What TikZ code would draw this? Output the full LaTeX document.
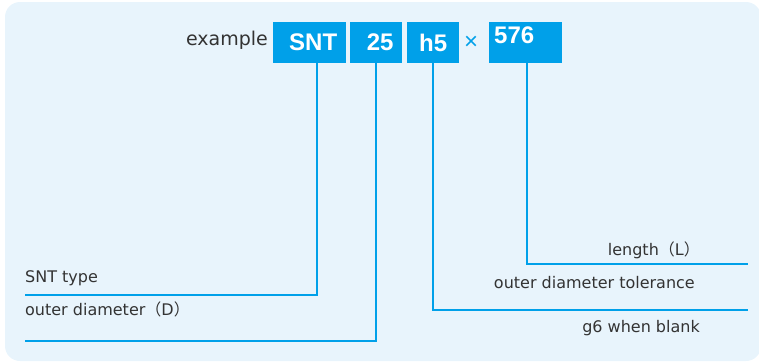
\documentclass[tikz,border=0pt]{standalone}
\usepackage{fontspec}
\setmainfont{DejaVu Sans}
\newfontfamily\cjkfont{Noto Sans CJK JP}
\newfontfamily\codefont{Liberation Sans}
\usetikzlibrary{positioning}
\definecolor{skyblue}{HTML}{00A0E9}
\definecolor{paleblue}{HTML}{E8F4FC}
\definecolor{inkgray}{HTML}{333333}
\newcommand{\lpar}{{\cjkfont （}}
\newcommand{\rpar}{{\cjkfont ）}}
\tikzset{
    codebox/.style = {fill = skyblue, text = white, font = \fontsize{24}{24}\codefont\bfseries,
        minimum height = 41pt, inner sep = 0pt, anchor = north west},
    leader/.style = {draw = skyblue, line width = 2pt},
    caption/.style = {text = inkgray, font = \fontsize{16}{16}\selectfont, inner sep = 0pt},
}
\begin{document}
\begin{tikzpicture}[x = 1pt, y = -1pt]
        \useasboundingbox (0, 0) rectangle (759, 362);
        \clip (0, 0) rectangle (759, 362);
        \fill [paleblue, rounded corners = 15pt] (5, 2) rectangle (761, 361);
        % code boxes
        \node [anchor = base east, inner sep = 0pt, text = inkgray, font = \fontsize{19}{19}\selectfont] (ex) at (268, 45) {example};
        \node [codebox, minimum width = 73pt] (snt) at (273, 22) {\hspace{7pt}SNT};
        \node [codebox, minimum width = 52pt] (dia) at (350, 22) {\hspace{8pt}25};
        \node [codebox, minimum width = 52pt] (tol) at (407, 22) {h5};
        \node [text = skyblue, font = \fontsize{24}{24}\codefont] (times) at (471, 43) {×};
        \node [codebox, minimum width = 73pt, text width = 63pt, align = left, inner xsep = 5pt,
            text height = 17pt, text depth = 15pt] (len) at (489, 22) {576};
        % leader lines
        \coordinate (sntend) at (25, 295);
        \coordinate (diaend) at (25, 341);
        \coordinate (tolend) at (748, 310);
        \coordinate (lenend) at (748, 264);
        \draw [leader] ([xshift = 7.5pt]snt.south) |- (sntend);
        \draw [leader] (dia.south) |- (diaend);
        \draw [leader] (tol.south) |- (tolend);
        \draw [leader] ([xshift = 1pt]len.south) |- (lenend);
        % captions
        \node [caption, anchor = base west] (snttype) at (25, 282) {SNT type};
        \node [caption, anchor = base west] (diatext) at (25, 315) {outer diameter\lpar D\rpar};
        \node [caption, anchor = base east] (lentext) at (700, 255) {length\lpar L\rpar};
        \node [caption, anchor = base east] (toltext) at (695, 288) {outer diameter tolerance};
        \node [caption, anchor = base east] (blank) at (700, 332) {g6 when blank};
    \end{tikzpicture}
\end{document}
